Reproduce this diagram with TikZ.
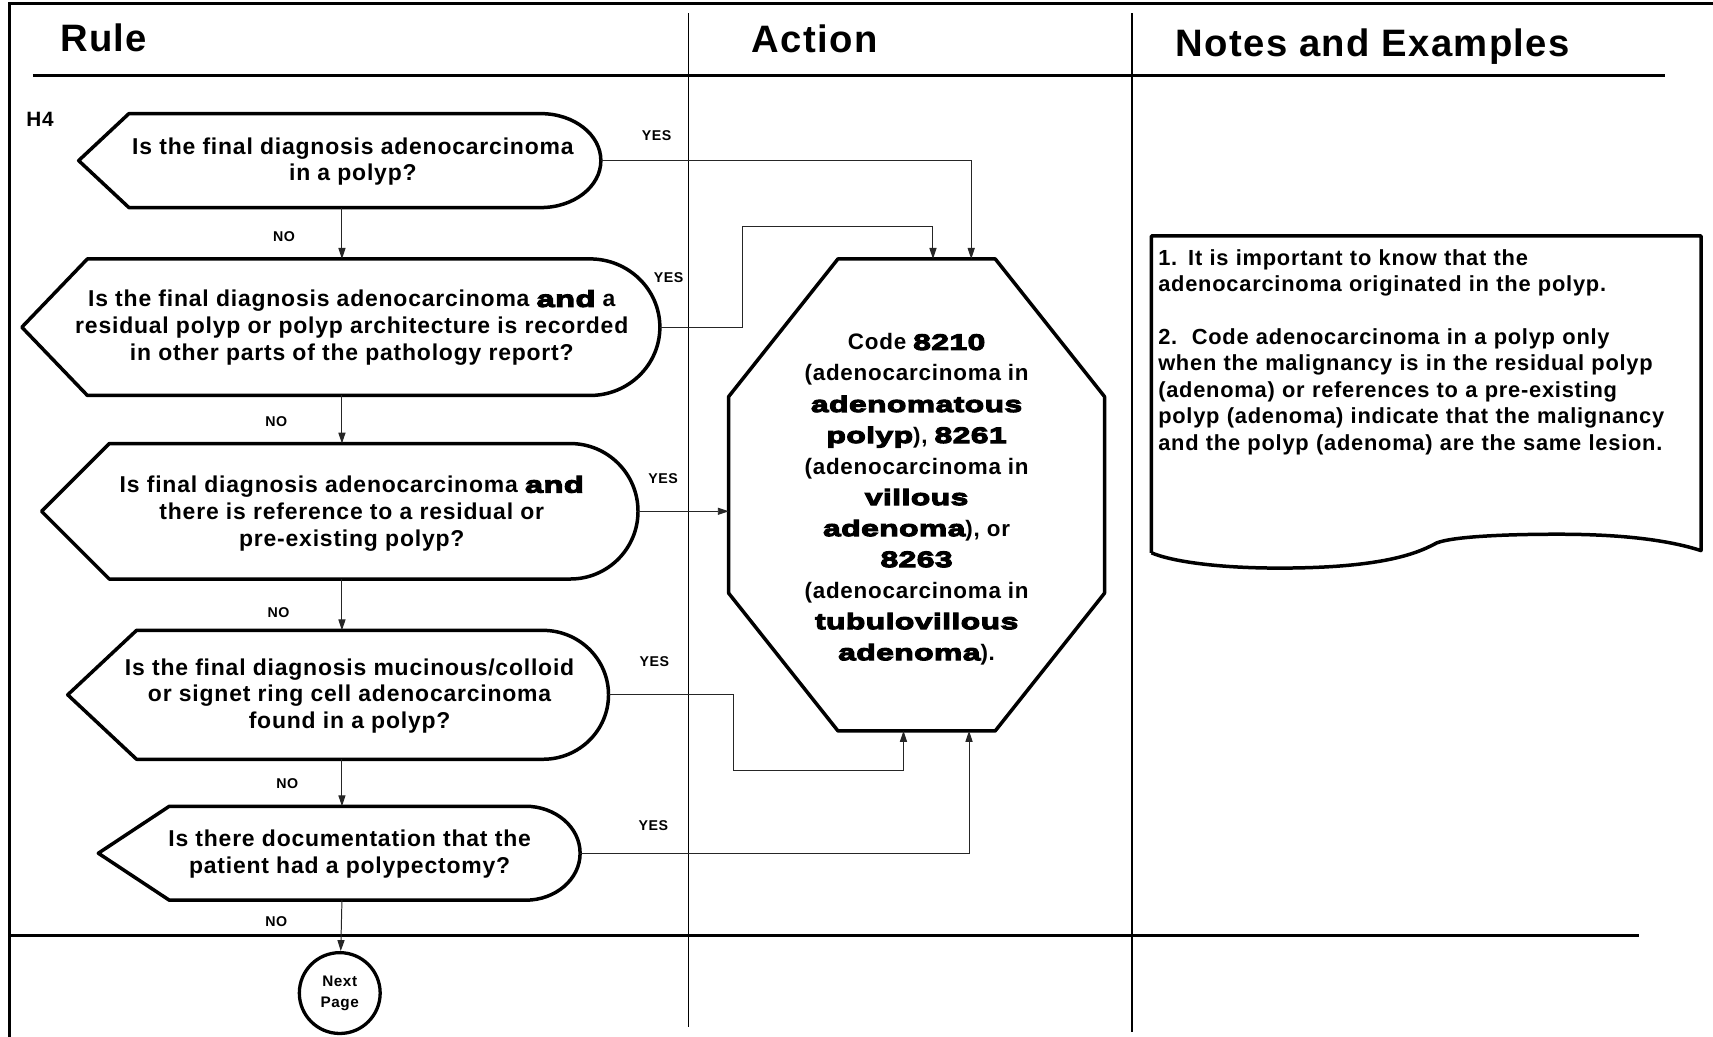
\documentclass[tikz,border=0pt]{standalone}
\usepackage{fontspec}
\setmainfont{Liberation Sans}[LetterSpace=3.5]
\newfontfamily\heavyfont[FakeBold=5,FakeStretch=1.42,LetterSpace=2]{Liberation Sans Bold}
\usetikzlibrary{arrows.meta}

\tikzset{
  rule/.style={line width=2.6pt},
  colsep/.style={line width=1.3pt},
  qline/.style={line width=3.2pt, line join=round},
  qtext/.style={font=\bfseries\fontsize{21}{24.5}\selectfont, align=center, inner sep=0pt},
  heading/.style={font=\bfseries\fontsize{35}{40}\selectfont, anchor=base west, inner sep=0pt},
  ans/.style={font=\bfseries\fontsize{13}{13}\selectfont, inner sep=0pt},
  link/.style={line width=0.9pt, black!85, ->},
}
% decision shape: name, point x, corner x, right x, top y, bottom y, arc radius
\newcommand{\qshape}[7]{%
  \draw[qline] (#2,{(#5+#6)/2}) -- (#3,#5) -- ({#4-#7},#5)
    arc[start angle=90, end angle=-90, x radius=#7pt, y radius={(#6-#5)*0.5pt}]
    -- (#3,#6) -- cycle;
  \coordinate (#1n) at (313,#5);
  \coordinate (#1s) at (313,#6);
  \coordinate (#1e) at (#4,{(#5+#6)/2});
}

\begin{document}
\begin{tikzpicture}[x=1pt,y=-1pt,>={Triangle[length=10pt,width=6.5pt]}]
\useasboundingbox (0,0) rectangle (1568,949);

% frame and columns
\draw[rule] (9,949) -- (9,3) -- (1568,3);
\draw[rule] (30,69) -- (1524,69);
\draw[rule] (9,856) -- (1500,856);
\draw[colsep] (630,12) -- (630,940);
\draw[colsep] (1036,12) -- (1036,945);

\node[heading] (hrule) at (55,47) {Rule};
\node[heading] (haction) at (688,48) {Action};
\node[heading] (hnotes) at (1076,52) {Notes and Examples};
\node[font=\bfseries\fontsize{19}{19}\selectfont, anchor=base west, inner sep=0pt] (h4) at (24,116) {H4};

% questions
\qshape{s1}{72}{118}{550}{104}{190}{55}
\qshape{s2}{20}{80}{604}{237}{362}{64}
\qshape{s3}{38}{100}{584}{406}{530}{62}
\qshape{s4}{62}{125}{557}{577}{695}{60}
\qshape{s5}{90}{155}{531}{738}{824}{50}

\node[qtext] (q1) at (323,148) {Is the final diagnosis adenocarcinoma\\in a polyp?};
\node[qtext] (q2) at (322,300) {Is the final diagnosis adenocarcinoma {\heavyfont and} a\\residual polyp or polyp architecture is recorded\\in other parts of the pathology report?};
\node[qtext] (q3) at (322,470) {Is final diagnosis adenocarcinoma {\heavyfont and}\\there is reference to a residual or\\pre-existing polyp?};
\node[qtext] (q4) at (320,637) {Is the final diagnosis mucinous/colloid\\or signet ring cell adenocarcinoma\\found in a polyp?};
\node[qtext] (q5) at (320,782) {Is there documentation that the\\patient had a polypectomy?};

\node[draw, circle, line width=3pt, minimum size=74pt, inner sep=0pt,
  font=\bfseries\fontsize{14}{19}\selectfont, align=center] (next) at (311,909) {Next\\Page};

% action
\draw[qline] (767,237) -- (911,237) -- (1011,363) -- (1011,543) -- (911,669)
  -- (767,669) -- (667,543) -- (667,363) -- cycle;
\node[qtext, font=\bfseries\fontsize{20.5}{28.4}\selectfont] (code) at (839,457)
  {Code {\heavyfont 8210}\\(adenocarcinoma in\\{\heavyfont adenomatous}\\{\heavyfont polyp}), {\heavyfont 8261}\\(adenocarcinoma in\\{\heavyfont villous}\\{\heavyfont adenoma}), or\\{\heavyfont 8263}\\(adenocarcinoma in\\{\heavyfont tubulovillous}\\{\heavyfont adenoma}).};
\coordinate (in1) at (889,237);
\coordinate (in2) at (854,237);
\coordinate (in3) at (667,468);
\coordinate (in4) at (827,669);
\coordinate (in5) at (887,669);

% notes
\draw[qline] (1054,506) -- (1054,216) -- (1557,216) -- (1557,504)
  .. controls (1520,492) and (1470,489) .. (1426,489)
  .. controls (1380,489) and (1330,491) .. (1315,497)
  .. controls (1300,505) and (1270,520) .. (1171,520)
  .. controls (1110,520) and (1070,513) .. (1054,506);
\node[qtext, font=\bfseries\fontsize{20}{24.2}\selectfont, align=left, anchor=north west,
  text width=500pt] (notes) at (1060,228)
  {1. It is important to know that the\\adenocarcinoma originated in the polyp.\\[24.2pt]
   2.\ \ Code adenocarcinoma in a polyp only\\when the malignancy is in the residual polyp\\(adenoma) or references to a pre-existing\\polyp (adenoma) indicate that the malignancy\\and the polyp (adenoma) are the same lesion.};

% no branches
\draw[link] (s1s) -- (s2n);
\draw[link] (s2s) -- (s3n);
\draw[link] (s3s) -- (s4n);
\draw[link] (s4s) -- (s5n);
\draw[link] (s5s) -- (next);
\node[ans] (no1) at (260,217) {NO};
\node[ans] (no2) at (253,386) {NO};
\node[ans] (no3) at (255,561) {NO};
\node[ans] (no4) at (263,717) {NO};
\node[ans] (no5) at (253,844) {NO};

% yes branches
\draw[link] (s1e) -| (in1);
\draw[link] (s2e) -- ++(76,0) |- ([yshift=30pt]in2) -- (in2);
\draw[link] (s3e) -- (in3);
\draw[link] (s4e) -- ++(114,0) |- ([yshift=-36pt]in4) -- (in4);
\draw[link] (s5e) -| (in5);
\node[ans] (yes1) at (601,124) {YES};
\node[ans] (yes2) at (612,254) {YES};
\node[ans] (yes3) at (607,438) {YES};
\node[ans] (yes4) at (599,606) {YES};
\node[ans] (yes5) at (598,756) {YES};
\end{tikzpicture}
\end{document}
